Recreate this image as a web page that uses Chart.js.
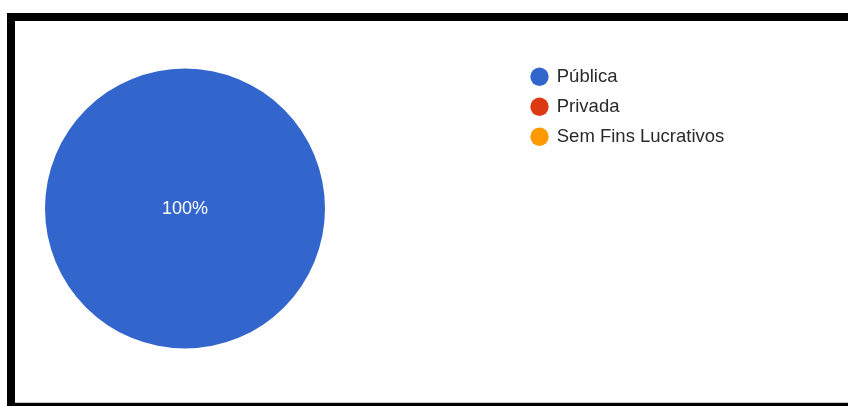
<!DOCTYPE html>
<html>
<head>
<meta charset="utf-8">
<script src="https://cdn.jsdelivr.net/npm/chart.js@4/dist/chart.umd.min.js"></script>
<style>
    html, body { margin: 0; padding: 0; background: #fff; overflow: hidden; }
    body { width: 848px; height: 406px; position: relative; }
    .moldura {
        position: absolute; left: 7px; top: 13px;
        width: 900px; height: 382px;
        border-top: 8px solid #000; border-left: 8px solid #000; border-bottom: 8px solid #000;
    }
    .area {
        position: absolute; left: 0; top: 0; width: 833px; height: 381px;
        border-bottom: 1px solid #c8c8c8;
    }
    canvas { display: block; }
</style>
</head>
<body>
<div class="moldura">
    <div class="area"><canvas id="graficaTipo" width="833" height="381"></canvas></div>
</div>
<script>
// Tipo de instituição (respostas em %)
const categorias = ['Pública', 'Privada', 'Sem Fins Lucrativos'];
const percentuais = [100, 0, 0];
const cores = ['#3366CC', '#DC3912', '#FF9900'];

const fonte = '"Liberation Sans", Arial, sans-serif';

// Coloca a legenda à direita da pizza, alinhada ao topo
const posLegenda = {
    id: 'posLegenda',
    afterLayout(chart) {
        const leg = chart.legend;
        const dx = 505 - leg.left;
        const dy = 35 - leg.top;
        leg.left += dx; leg.right += dx;
        leg.top += dy; leg.bottom += dy;
    }
};

// Rótulo de percentual dentro de cada fatia
const rotuloFatias = {
    id: 'rotuloFatias',
    afterDatasetsDraw(chart) {
        const ctx = chart.ctx;
        const meta = chart.getDatasetMeta(0);
        const valores = chart.data.datasets[0].data;
        const total = valores.reduce((a, b) => a + b, 0);
        ctx.save();
        ctx.fillStyle = '#ffffff';
        ctx.font = '18px ' + fonte;
        ctx.textAlign = 'center';
        ctx.textBaseline = 'middle';
        meta.data.forEach((arco, i) => {
            const v = valores[i];
            if (!v) return;
            const pct = Math.round(v / total * 100);
            let pos;
            if (v === total) {
                pos = { x: arco.x, y: arco.y };
            } else {
                pos = arco.tooltipPosition();
            }
            ctx.fillText(pct + '%', pos.x, pos.y + 1);
        });
        ctx.restore();
    }
};

const ctx = document.getElementById('graficaTipo').getContext('2d');
new Chart(ctx, {
    type: 'pie',
    data: {
        labels: categorias,
        datasets: [{
            data: percentuais,
            backgroundColor: cores,
            borderWidth: 0
        }]
    },
    options: {
        responsive: false,
        animation: false,
        layout: { padding: { left: 30, right: 523, top: 47.5, bottom: 53.5 } },
        plugins: {
            tooltip: { enabled: false },
            legend: {
                position: 'chartArea',
                align: 'start',
                labels: {
                    usePointStyle: true,
                    pointStyle: 'circle',
                    boxWidth: 16,
                    boxHeight: 13,
                    padding: 11.5,
                    color: '#2a2a2a',
                    font: { family: fonte, size: 18.5 }
                }
            }
        }
    },
    plugins: [posLegenda, rotuloFatias]
});
</script>
</body>
</html>
